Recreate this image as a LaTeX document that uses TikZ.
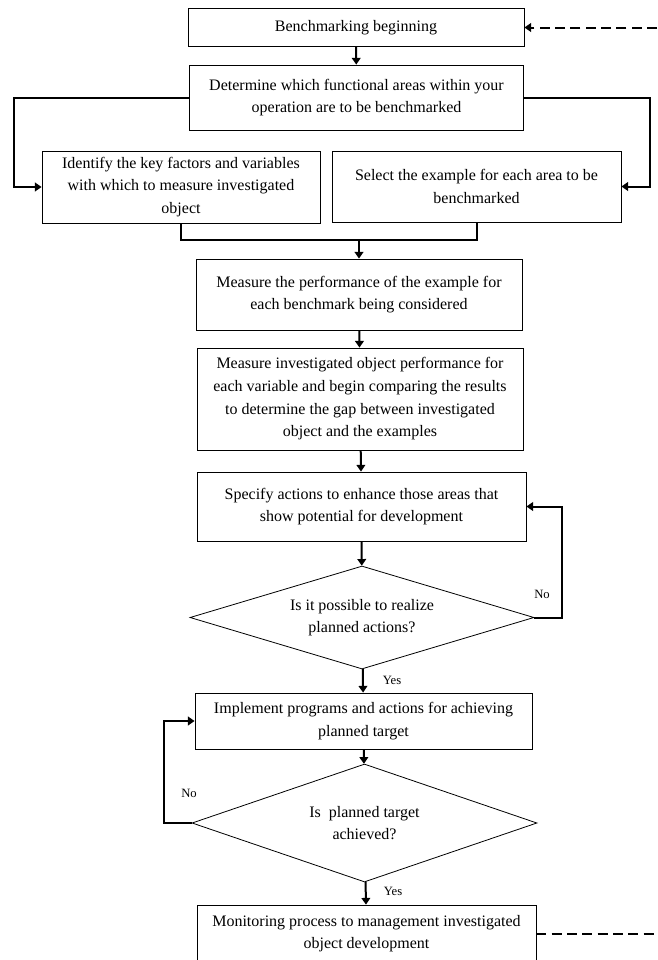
\documentclass[tikz,border=0pt]{standalone}
\usepackage{fontspec}
\setmainfont{Liberation Serif}
\usetikzlibrary{arrows.meta,shapes.geometric,calc}
\tikzset{
    step box/.style = {
        draw,
        line width=0.6pt,
        align=center,
        inner sep=2pt,
        font=\fontsize{12}{17}\selectfont,
        },
    decision/.style = {
        draw,
        diamond,
        line width=0.6pt,
        align=center,
        inner sep=0pt,
        font=\fontsize{12}{17}\selectfont,
        },
    flow edge/.style = {
        draw,
        line width=1.5pt,
        -{Triangle[length=5pt,width=6.5pt]},
        },
    joint edge/.style = {
        draw,
        line width=1.5pt,
        },
    loop edge/.style = {
        draw,
        line width=1.5pt,
        dash pattern=on 7.5pt off 4pt,
        },
    answer/.style = {
        font=\fontsize{9.5}{11}\selectfont,
        inner sep=0pt,
        },
}

\begin{document}
\begin{tikzpicture}[x=0.75pt,y=-0.75pt]
            \useasboundingbox (0,0) rectangle (657,960);

            \node[step box, minimum width=252pt, minimum height=28.5pt] (1) at (356,27.5) {Benchmarking beginning};
            \node[step box, minimum width=250pt, minimum height=48.75pt] (2) at (356.5,97.5) {Determine which functional areas within your\\operation are to be benchmarked};
            \node[step box, minimum width=208.5pt, minimum height=54pt] (3) at (181,187) {Identify the key factors and variables\\with which to measure investigated\\object};
            \node[step box, minimum width=216.75pt, minimum height=53.25pt] (4) at (476.5,186.5) {Select the example for each area to be\\benchmarked};
            \node[step box, minimum width=244.5pt, minimum height=53.25pt] (5) at (359,294.5) {Measure the performance of the example for\\each benchmark being considered};
            \node[step box, minimum width=244.5pt, minimum height=76.5pt] (6) at (360,399) {Measure investigated object performance for\\each variable and begin comparing the results\\to determine the gap between investigated\\object and the examples};
            \node[step box, minimum width=246.75pt, minimum height=51.75pt] (7) at (361.5,506.5) {Specify actions to enhance those areas that\\show potential for development};
            \node[decision, aspect=3.34, minimum width=258pt, minimum height=77.25pt] (8) at (362,617.5) {Is it possible to realize\\planned actions?};
            \node[step box, minimum width=252.75pt, minimum height=42pt] (9) at (363.5,721) {Implement programs and actions for achieving\\planned target};
            \node[decision, aspect=2.92, minimum width=258.75pt, minimum height=88.5pt] (10) at (364.5,823) {Is~ planned target\\achieved?};
            \node[step box, minimum width=254.25pt, minimum height=42.75pt] (11) at (366.5,933.5) {Monitoring process to management investigated\\object development};

            \coordinate (merge) at (359,240);
            \coordinate (back in) at (657,27.5);
            \coordinate (back out) at (657,933.5);

            \path (1) edge[flow edge] (2);
            \draw[flow edge] (2.west) -- ++(-175,0) |- (3.west);
            \draw[flow edge] (2.east) -- ++(126,0) |- (4.east);
            \draw[joint edge] (3.south) |- (merge);
            \draw[joint edge] (4.south) |- (merge);
            \path (merge) edge[flow edge] (5.north);
            \path (5) edge[flow edge] (6);
            \path (6) edge[flow edge] (7);
            \path (7) edge[flow edge] (8);
            \draw[flow edge] (8.east) -- ++(28,0) |- (7.east);
            \path (8) edge[flow edge] (9);
            \path (9) edge[flow edge] (10);
            \draw[flow edge] (10.west) -- ++(-28,0) |- (9.west);
            \path (10) edge[flow edge] (11);
            \draw[loop edge, -{Triangle[length=5pt,width=6.5pt]}] (back in) -- (1.east);
            \draw[loop edge] (11.east) -- (back out);

            \node[answer] (no1) at (542,594) {No};
            \node[answer] (yes1) at (392,680) {Yes};
            \node[answer] (no2) at (189,793) {No};
            \node[answer] (yes2) at (393,891) {Yes};
        \end{tikzpicture}
\end{document}
